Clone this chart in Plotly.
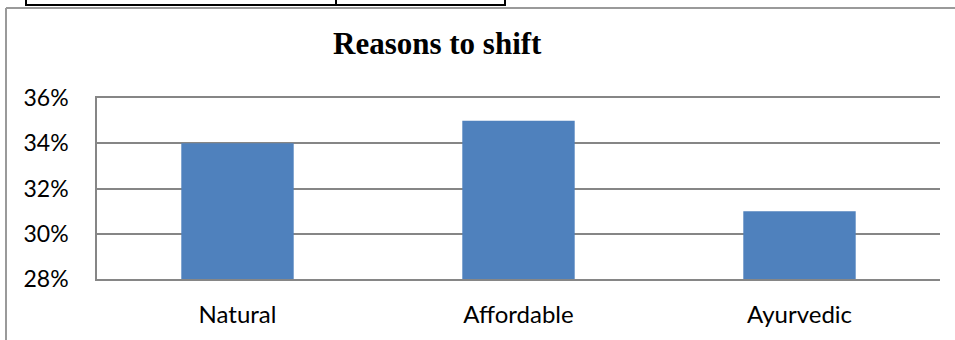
import plotly.graph_objects as go

categories = ["Natural", "Affordable", "Ayurvedic"]
shares = [0.34, 0.35, 0.31]
y_ticks = [0.28, 0.30, 0.32, 0.34, 0.36]
y_tick_labels = ["28%", "30%", "32%", "34%", "36%"]

W, H = 955, 340
GRID = "#868686"


def px(x):
    return x / W


def py(y):
    return 1 - y / H


fig = go.Figure(
    go.Bar(
        x=categories,
        y=shares,
        marker=dict(color="#4F81BD", line=dict(width=0)),
        width=0.4,
    )
)

shapes = []
# frame around the chart
shapes.append(dict(type="line", xref="paper", yref="paper", x0=px(6), x1=px(955), y0=py(8), y1=py(8),
                   line=dict(color="#9a9a9a", width=2)))
shapes.append(dict(type="line", xref="paper", yref="paper", x0=px(6), x1=px(6), y0=py(8), y1=py(340),
                   line=dict(color="#9a9a9a", width=2)))
# bottom edge of the table above
shapes.append(dict(type="line", xref="paper", yref="paper", x0=px(25), x1=px(506), y0=py(5), y1=py(5),
                   line=dict(color="black", width=2)))
for xv in (26, 336, 505):
    shapes.append(dict(type="line", xref="paper", yref="paper", x0=px(xv), x1=px(xv), y0=py(0), y1=py(5),
                       line=dict(color="black", width=2)))

fig.update_layout(
    width=W,
    height=H,
    margin=dict(l=0, r=0, t=0, b=0),
    paper_bgcolor="white",
    plot_bgcolor="white",
    showlegend=False,
    shapes=shapes,
    annotations=[
        dict(text="<b>Reasons to shift</b>", xref="paper", yref="paper", x=px(437), y=py(44),
             xanchor="center", yanchor="middle", showarrow=False,
             font=dict(family="Liberation Serif", size=31, color="black")),
    ],
    xaxis=dict(
        domain=[px(97), px(940)],
        showgrid=False,
        showline=True,
        mirror=True,
        linecolor=GRID,
        linewidth=1.5,
        ticks="",
        tickfont=dict(family="Lato", size=24, color="black"),
        ticklabelstandoff=13,
        automargin=False,
    ),
    yaxis=dict(
        domain=[py(279), py(98)],
        range=[0.28, 0.36],
        tickvals=y_ticks,
        ticktext=y_tick_labels,
        showgrid=True,
        gridcolor=GRID,
        gridwidth=1.5,
        showline=True,
        linecolor=GRID,
        linewidth=1.5,
        zeroline=False,
        ticks="",
        tickfont=dict(family="Lato", size=23, color="black"),
        ticklabelstandoff=22,
        automargin=False,
    ),
)

fig.write_html("out.html")
